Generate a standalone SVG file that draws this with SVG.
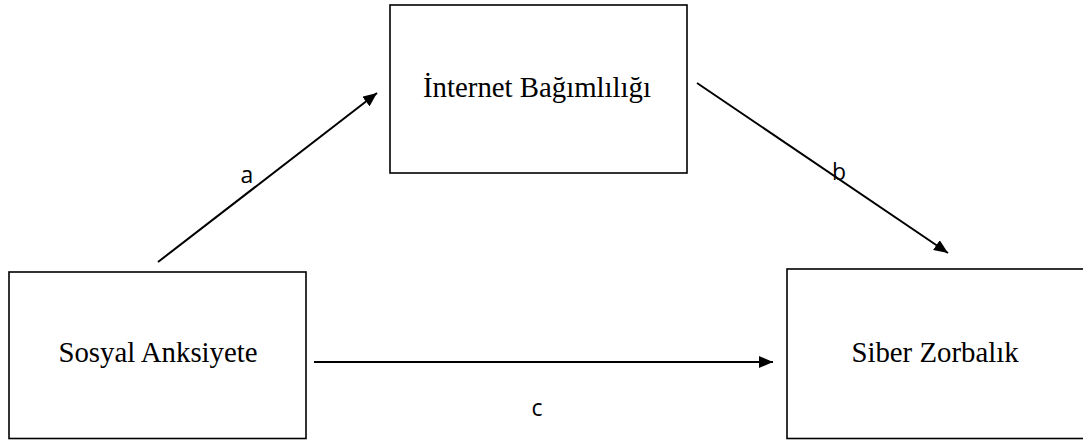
<svg xmlns="http://www.w3.org/2000/svg" width="1083" height="440" viewBox="0 0 1083 440">
<style>
.box{fill:#fff;stroke:#000;stroke-width:1.6}
.t{font-family:"Liberation Serif","Times New Roman",serif;font-size:28.8px;text-anchor:middle;fill:#000}
.l{font-family:"Open Sans","Liberation Sans",sans-serif;font-size:23px;text-anchor:middle;fill:#000}
.c{stroke:#000;stroke-width:2;fill:none}
</style>
<defs>
<marker id="ah" markerWidth="14" markerHeight="12" refX="14" refY="6" orient="auto" markerUnits="userSpaceOnUse">
<path d="M0,0 L14,6 L0,12 Z" fill="#000"/>
</marker>
</defs>
<g id="node-internet">
<rect class="box" x="390" y="5" width="297" height="168"/>
<text class="t" x="537" y="97">İnternet Bağımlılığı</text>
</g>
<g id="node-sosyal">
<rect class="box" x="9" y="272" width="297" height="166.5"/>
<text class="t" x="158" y="362">Sosyal Anksiyete</text>
</g>
<g id="node-siber">
<rect class="box" x="787" y="269" width="305" height="169.5"/>
<text class="t" x="935" y="362">Siber Zorbalık</text>
</g>
<g id="connectors">
<line class="c" x1="158" y1="262" x2="377" y2="93" marker-end="url(#ah)"/>
<line class="c" x1="697" y1="83" x2="948" y2="253" marker-end="url(#ah)"/>
<line class="c" x1="314" y1="362" x2="773" y2="362" marker-end="url(#ah)"/>
<text class="l" x="247" y="183">a</text>
<text class="l" x="839" y="180">b</text>
<text class="l" x="537" y="416">c</text>
</g>
</svg>
